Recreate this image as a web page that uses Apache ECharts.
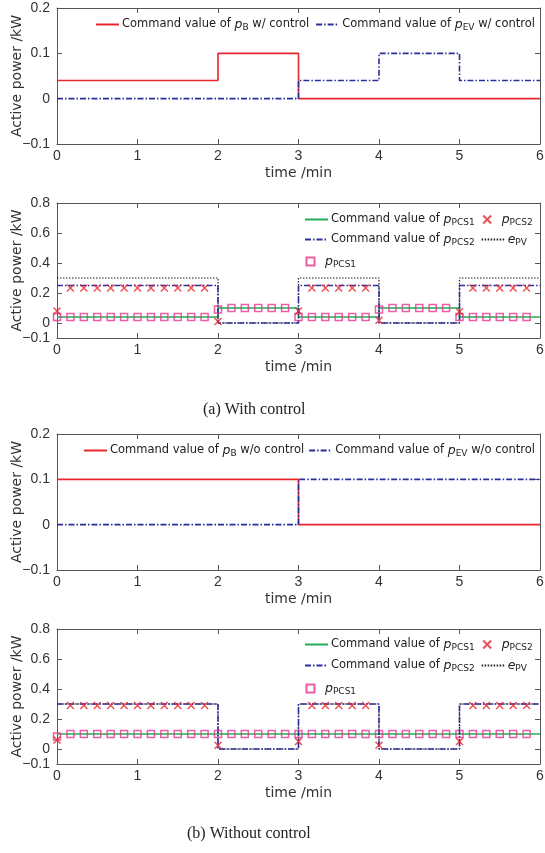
<!DOCTYPE html>
<html><head><meta charset="utf-8">
<script src="https://cdn.jsdelivr.net/npm/echarts@6/dist/echarts.min.js"></script>
<style>html,body{margin:0;padding:0;background:#fff}#c{width:545px;height:853px}</style>
</head><body><div id="c"></div>
<script>
// ---- data ----
// step series: change-point times and values (held until next time)
const tA_B = [0, 2, 3, 6];           const vA_B = [0.04, 0.1, 0, 0];
const tA_EV = [0, 3, 4, 5, 6];       const vA_EV = [0, 0.04, 0.1, 0.04, 0.04];
const tA_cmd1 = [0, 2, 3, 4, 5, 6];  const vA_cmd1 = [0.04, 0.1, 0.04, 0.1, 0.04, 0.04];
const tA_cmd2 = [0, 2, 3, 4, 5, 6];  const vA_cmd2 = [0.25, 0, 0.25, 0, 0.25, 0.25];
const tA_pv = [0, 2, 3, 4, 5, 6];    const vA_pv = [0.3, 0, 0.3, 0, 0.3, 0.3];

const tB_B = [0, 3, 6];              const vB_B = [0.1, 0, 0];
const tB_EV = [0, 3, 6];             const vB_EV = [0, 0.1, 0.1];
const tB_cmd1 = [0, 6];              const vB_cmd1 = [0.1, 0.1];
const tB_cmd2 = [0, 2, 3, 4, 5, 6];  const vB_cmd2 = [0.3, 0, 0.3, 0, 0.3, 0.3];
const tB_pv = [0, 2, 3, 4, 5, 6];    const vB_pv = [0.3, 0, 0.3, 0, 0.3, 0.3];

// measured samples (every 10 s)
const tS = [0,0.1667,0.3333,0.5,0.6667,0.8333,1,1.1667,1.3333,1.5,1.6667,1.8333,
            2,2.1667,2.3333,2.5,2.6667,2.8333,3,3.1667,3.3333,3.5,3.6667,3.8333,
            4,4.1667,4.3333,4.5,4.6667,4.8333,5,5.1667,5.3333,5.5,5.6667,5.8333];
const mA_pcs1 = [0.04,0.04,0.04,0.04,0.04,0.04,0.04,0.04,0.04,0.04,0.04,0.04,
                 0.09,0.1,0.1,0.1,0.1,0.1, 0.04,0.04,0.04,0.04,0.04,0.04,
                 0.09,0.1,0.1,0.1,0.1,0.1, 0.04,0.04,0.04,0.04,0.04,0.04];
const mA_pcs2 = [0.08,0.233,0.233,0.233,0.233,0.233,0.233,0.233,0.233,0.233,0.233,0.233,
                 0.01,null,null,null,null,null, 0.08,0.233,0.233,0.233,0.233,0.233,
                 0.018,null,null,null,null,null, 0.075,0.233,0.233,0.233,0.233,0.233];
const mB_pcs1 = [0.083,0.1,0.1,0.1,0.1,0.1,0.1,0.1,0.1,0.1,0.1,0.1,
                 0.1,0.1,0.1,0.1,0.1,0.1, 0.1,0.1,0.1,0.1,0.1,0.1,
                 0.1,0.1,0.1,0.1,0.1,0.1, 0.1,0.1,0.1,0.1,0.1,0.1];
const mB_pcs2 = [0.06,0.29,0.29,0.29,0.29,0.29,0.29,0.29,0.29,0.29,0.29,0.29,
                 0.025,null,null,null,null,null, 0.05,0.29,0.29,0.29,0.29,0.29,
                 0.025,null,null,null,null,null, 0.05,0.29,0.29,0.29,0.29,0.29];

const xTicks = [0, 1, 2, 3, 4, 5, 6];
const yTicksSmall = [-0.1, 0, 0.1, 0.2];
const yTicksBig = [-0.1, 0, 0.2, 0.4, 0.6, 0.8];

const legendLabels = {
  a_B: '{n|Command value of }{i|p}{s|B}{n| w/ control}',
  a_EV: '{n|Command value of }{i|p}{s|EV}{n| w/ control}',
  b_B: '{n|Command value of }{i|p}{s|B}{n| w/o control}',
  b_EV: '{n|Command value of }{i|p}{s|EV}{n| w/o control}',
  cmd1: '{n|Command value of }{i|p}{s|PCS1}',
  cmd2: '{n|Command value of }{i|p}{s|PCS2}',
  m2: '{i|p}{s|PCS2}',
  pv: '{i|e}{s|PV}',
  m1: '{i|p}{s|PCS1}'
};

// ---- layout / style ----
const FONT = 'DejaVu Sans';
const TFONT = '"Liberation Sans Narrow", "Liberation Sans", Arial, sans-serif';
const AX = '#555';
const C_RED = '#e8262e', C_BLUE = '#2b2f9a', C_GREEN = '#1fae52', C_MAG = '#e6358f', C_BLK = '#222';
const grids = [
  {left: 57, right: 5, top: 8, height: 136, outerBoundsMode: 'none', containLabel: false},
  {left: 57, right: 5, top: 203, height: 135, outerBoundsMode: 'none', containLabel: false},
  {left: 57, right: 5, top: 434, height: 136, outerBoundsMode: 'none', containLabel: false},
  {left: 57, right: 5, top: 629, height: 135, outerBoundsMode: 'none', containLabel: false}
];
const fmt = v => (Math.abs(v) < 1e-9 ? '0' : (v < 0 ? '\u2212' + Math.abs(v) : String(+v.toFixed(2))));
const zip = (t, v) => t.map((x, i) => [x, v[i]]);

const xAxes = [], yAxes = [];
grids.forEach((g, gi) => {
  xAxes.push({type: 'value', gridIndex: gi, min: 0, max: 6, position: 'bottom',
    name: 'time /min', nameLocation: 'middle', nameGap: 22, nameMoveOverlap: false,
    nameTextStyle: {fontFamily: FONT, fontSize: 14, color: '#333'},
    axisLine: {onZero: false, lineStyle: {color: AX, width: 1}},
    axisTick: {inside: true, length: 5, lineStyle: {color: AX}, customValues: xTicks},
    axisLabel: {fontFamily: TFONT, fontSize: 14, color: '#333', margin: 5, customValues: xTicks, formatter: fmt},
    splitLine: {show: false}});
  xAxes.push({type: 'value', gridIndex: gi, min: 0, max: 6, position: 'top',
    axisLine: {onZero: false, lineStyle: {color: AX, width: 1}},
    axisTick: {inside: true, length: 5, lineStyle: {color: AX}, customValues: xTicks},
    axisLabel: {show: false}, splitLine: {show: false}});
  const big = gi % 2 === 1;
  const yt = big ? yTicksBig : yTicksSmall;
  yAxes.push({type: 'value', gridIndex: gi, min: -0.1, max: big ? 0.8 : 0.2, position: 'left',
    name: 'Active power /kW', nameLocation: 'middle', nameGap: 33, nameMoveOverlap: false,
    nameTextStyle: {fontFamily: FONT, fontSize: 14, color: '#333'},
    axisLine: {show: true, onZero: false, lineStyle: {color: AX, width: 1}},
    axisTick: {show: true, inside: true, length: 5, lineStyle: {color: AX}, customValues: yt},
    axisLabel: {fontFamily: TFONT, fontSize: 14, color: '#333', margin: 7, customValues: yt, formatter: fmt},
    splitLine: {show: false}});
  yAxes.push({type: 'value', gridIndex: gi, min: -0.1, max: big ? 0.8 : 0.2, position: 'right',
    axisLine: {show: true, onZero: false, lineStyle: {color: AX, width: 1}},
    axisTick: {show: true, inside: true, length: 5, lineStyle: {color: AX}, customValues: yt},
    axisLabel: {show: false}, splitLine: {show: false}});
});

const stepLine = (name, gi, t, v, color, type, width) => ({
  name, type: 'line', step: 'end', xAxisIndex: gi * 2, yAxisIndex: gi * 2,
  data: zip(t, v), symbol: 'none', showSymbol: false,
  lineStyle: {color, width: width || 1.6, type: type || 'solid'}, itemStyle: {color},
  z: 2, silent: true
});
const XPATH = 'path://M0,0L10,10M10,0L0,10';
const SQPATH = 'path://M0,0L10,0L10,10L0,10Z';
const scat = (name, gi, v, kind) => ({
  name, type: 'scatter', xAxisIndex: gi * 2, yAxisIndex: gi * 2,
  data: tS.map((x, i) => [x, v[i]]).filter(p => p[1] !== null),
  symbol: kind === 'x' ? XPATH : SQPATH,
  symbolSize: 7,
  itemStyle: kind === 'x'
    ? {color: 'none', borderColor: C_RED, borderWidth: 1.5}
    : {color: 'none', borderColor: C_MAG, borderWidth: 1.5},
  z: kind === 'x' ? 4 : 3, silent: true
});
const DASHDOT = [6, 2, 1.5, 2];

const series = [
  stepLine('a_B', 0, tA_B, vA_B, C_RED),
  stepLine('a_EV', 0, tA_EV, vA_EV, C_BLUE, DASHDOT),
  stepLine('a_cmd1', 1, tA_cmd1, vA_cmd1, C_GREEN),
  stepLine('a_pv', 1, tA_pv, vA_pv, C_BLK, [1.5, 1.5], 1.2),
  stepLine('a_cmd2', 1, tA_cmd2, vA_cmd2, C_BLUE, DASHDOT),
  scat('a_m1', 1, mA_pcs1, 'sq'),
  scat('a_m2', 1, mA_pcs2, 'x'),
  stepLine('b_B', 2, tB_B, vB_B, C_RED),
  stepLine('b_EV', 2, tB_EV, vB_EV, C_BLUE, DASHDOT),
  stepLine('b_cmd1', 3, tB_cmd1, vB_cmd1, C_GREEN),
  stepLine('b_pv', 3, tB_pv, vB_pv, C_BLK, [1.5, 1.5], 1.2),
  stepLine('b_cmd2', 3, tB_cmd2, vB_cmd2, C_BLUE, DASHDOT),
  scat('b_m1', 3, mB_pcs1, 'sq'),
  scat('b_m2', 3, mB_pcs2, 'x')
];

const rich = {
  n: {fontFamily: FONT, fontSize: 11.5, color: '#222', lineHeight: 18},
  i: {fontFamily: FONT, fontSize: 12.5, fontStyle: 'italic', color: '#222', lineHeight: 18},
  s: {fontFamily: FONT, fontSize: 9, color: '#222', padding: [7, 0, 0, 0]}
};
const lineItem = name => ({name, itemStyle: {opacity: 0}});
const markItem = name => ({name});
const mkLegend = (data, left, top, gap) => ({
  data, left, top, orient: 'horizontal', itemWidth: 23, itemHeight: 8, itemGap: gap === undefined ? 4 : gap,
  selectedMode: false, padding: 0,
  formatter: name => legendLabels[name.slice(2)] || legendLabels[name],
  textStyle: {fontFamily: FONT, fontSize: 11.5, color: '#222', rich, padding: [0, 0, 0, -2]},
  backgroundColor: 'transparent'
});
const legends = [
  mkLegend([lineItem('a_B'), lineItem('a_EV')], 95, 18, 6),
  mkLegend([lineItem('a_cmd1'), markItem('a_m2')], 304, 213, 6),
  mkLegend([lineItem('a_cmd2'), lineItem('a_pv')], 304, 233, 6),
  mkLegend([markItem('a_m1')], 304, 255),
  mkLegend([lineItem('b_B'), lineItem('b_EV')], 83, 444, 4),
  mkLegend([lineItem('b_cmd1'), markItem('b_m2')], 304, 638, 6),
  mkLegend([lineItem('b_cmd2'), lineItem('b_pv')], 304, 659, 6),
  mkLegend([markItem('b_m1')], 304, 682)
];

const chart = echarts.init(document.getElementById('c'), null, {renderer: 'canvas'});
chart.setOption({
  animation: false,
  backgroundColor: '#fff',
  grid: grids,
  xAxis: xAxes,
  yAxis: yAxes,
  legend: legends,
  series,
  graphic: [
    {type: 'text', left: 278 - 75, top: 402, style: {text: '(a) With control', font: '16px "Liberation Serif"', fill: '#222'}},
    {type: 'text', left: 278 - 91, top: 826, style: {text: '(b) Without control', font: '16px "Liberation Serif"', fill: '#222'}}
  ]
});
</script></body></html>
